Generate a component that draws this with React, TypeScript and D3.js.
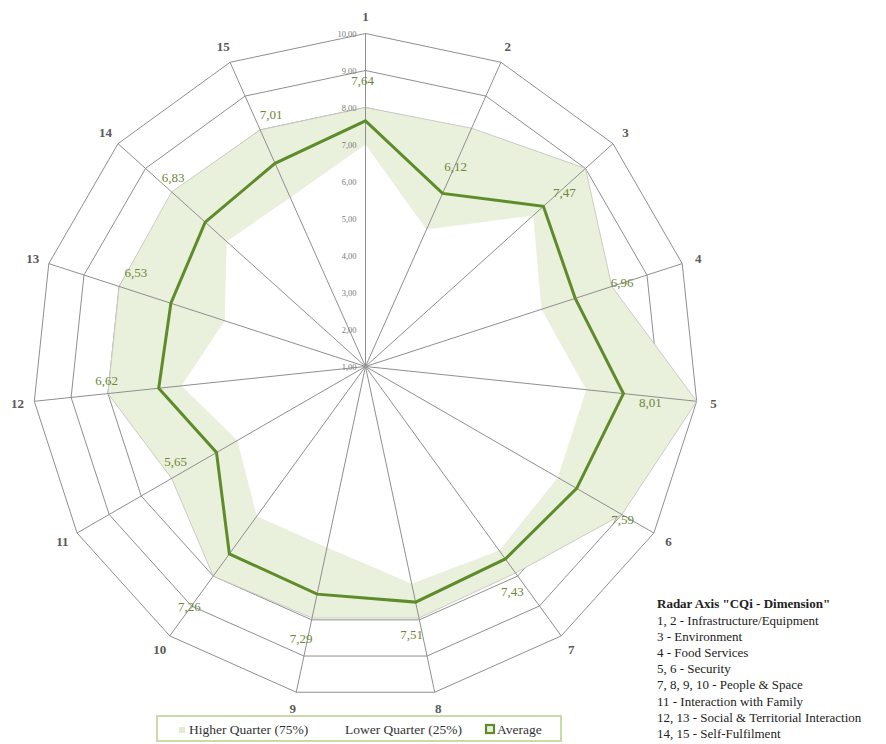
import React from 'react';
import * as d3 from 'd3';

// Radar axes (CQi dimensions) and the three series shown on them
const axisNames = ['1', '2', '3', '4', '5', '6', '7', '8', '9', '10', '11', '12', '13', '14', '15'];
const averageValues = [7.64, 6.12, 7.47, 6.96, 8.01, 7.59, 7.43, 7.51, 7.29, 7.26, 5.65, 6.62, 6.53, 6.83, 7.01];
const higherQuarter = [8.0, 8.05, 9.0, 8.0, 10.0, 9.0, 7.9, 7.95, 7.95, 8.0, 7.05, 8.0, 8.0, 8.05, 8.0];
const lowerQuarter = [7.0, 5.05, 7.1, 6.0, 7.0, 7.0, 7.15, 7.0, 6.0, 6.0, 5.0, 6.0, 5.0, 6.05, 6.0];
const tickValues = [1, 2, 3, 4, 5, 6, 7, 8, 9, 10];

const legendItems = ['Higher Quarter (75%)', 'Lower Quarter (25%)', 'Average'];
const dimensionTitle = 'Radar Axis "CQi - Dimension"';
const dimensionNotes = [
  '1, 2 - Infrastructure/Equipment',
  '3 - Environment',
  '4 - Food Services',
  '5, 6 - Security',
  '7, 8, 9, 10 - People & Space',
  '11 - Interaction with Family',
  '12, 13 - Social & Territorial Interaction',
  '14, 15 - Self-Fulfilment',
];

// layout
const W = 886;
const H = 744;
const cx = 365.5;
const cy = 366.5;
const R = 333;
// per-axis nudges of the value labels relative to the average vertex (px)
const labelNudge: [number, number][] = [
  [-3, -40], [13, -27], [21, -14], [47, -16], [27, 9], [46, 31], [7, 33], [-4, 32],
  [-16, 44], [-40, 53], [-41, 9], [-52, -8], [-35, -31], [-32, -45], [-4, -49],
];

const SERIF = "'Liberation Serif', 'Times New Roman', 'DejaVu Serif', serif";
const GRID = '#8f8f8f';
const FILL_HIGH = '#e9f0dc';
const AVG = '#5e8c2b';
const LABEL_GREEN = '#6e8736';

export default function App() {
  const n = axisNames.length;
  const r = d3.scaleLinear().domain([1, 10]).range([0, R]);
  const angle = d3
    .scaleLinear()
    .domain([0, n])
    .range([0, 2 * Math.PI]);

  const radial = d3
    .lineRadial<number>()
    .angle((_, i) => angle(i))
    .radius((v) => r(v))
    .curve(d3.curveLinearClosed);

  const pt = (i: number, v: number): [number, number] => {
    const a = angle(i);
    const d = r(v);
    return [cx + d * Math.sin(a), cy - d * Math.cos(a)];
  };

  const fmt = (v: number) => d3.format('.2f')(v).replace('.', ',');

  return (
    <svg
      width={W}
      height={H}
      viewBox={`0 0 ${W} ${H}`}
      style={{ position: 'absolute', left: 0, top: 0, background: '#fff', fontFamily: SERIF }}
    >
      <rect x={0} y={0} width={W} height={H} fill="#fff" />
      <g transform={`translate(${cx},${cy})`}>
        {/* grid rings */}
        {tickValues.slice(1).map((t) => (
          <path
            key={`ring-${t}`}
            d={radial(axisNames.map(() => t)) || ''}
            fill="none"
            stroke={GRID}
            strokeWidth={1}
          />
        ))}
        {/* quartile band: higher quarter filled, lower quarter blanked out */}
        <path d={radial(higherQuarter) || ''} fill={FILL_HIGH} stroke="#c9cdc2" strokeWidth={1} />
        <path d={radial(lowerQuarter) || ''} fill="#fff" stroke="none" />
      </g>

      {/* spokes */}
      {axisNames.map((name, i) => {
        const [x, y] = pt(i, 10);
        return <line key={`spoke-${name}`} x1={cx} y1={cy} x2={x} y2={y} stroke={GRID} strokeWidth={1} />;
      })}
      <circle cx={cx} cy={cy} r={2} fill="#999" />

      {/* average series */}
      <g transform={`translate(${cx},${cy})`}>
        <path
          d={radial(averageValues) || ''}
          fill="none"
          stroke={AVG}
          strokeWidth={3}
          strokeLinejoin="miter"
        />
      </g>

      {/* tick labels along axis 1 */}
      {tickValues.map((t) => (
        <text
          key={`tick-${t}`}
          x={cx - 9}
          y={cy - r(t)}
          textAnchor="end"
          dominantBaseline="central"
          fontSize={8.5}
          fill="#7a7a7a"
        >
          {fmt(t)}
        </text>
      ))}

      {/* value labels */}
      {averageValues.map((v, i) => {
        const [x, y] = pt(i, v);
        return (
          <text
            key={`val-${i}`}
            x={x + labelNudge[i][0]}
            y={y + labelNudge[i][1]}
            textAnchor="middle"
            dominantBaseline="central"
            fontSize={13}
            fill={LABEL_GREEN}
          >
            {fmt(v)}
          </text>
        );
      })}

      {/* axis names */}
      {axisNames.map((name, i) => {
        const a = angle(i);
        const d = R + 17;
        return (
          <text
            key={`axis-${name}`}
            x={cx + d * Math.sin(a)}
            y={cy - d * Math.cos(a)}
            textAnchor="middle"
            dominantBaseline="central"
            fontSize={13}
            fontWeight="bold"
            fill="#5a5a5a"
          >
            {name}
          </text>
        );
      })}

      {/* legend */}
      <rect x={157} y={716} width={404} height={25} fill="none" stroke="#cadba9" strokeWidth={2} />
      <rect x={179} y={727} width={6} height={6} fill="#e3ecd3" />
      <text x={189} y={734} fontSize={13.5} fill="#333">
        {legendItems[0]}
      </text>
      <text x={345} y={734} fontSize={13.5} fill="#333">
        {legendItems[1]}
      </text>
      <rect x={486} y={725} width={8} height={8} fill={FILL_HIGH} stroke={AVG} strokeWidth={2.2} />
      <text x={497} y={734} fontSize={13.5} fill="#333">
        {legendItems[2]}
      </text>

      {/* dimension key */}
      <text x={657} y={608} fontSize={13} fontWeight="bold" fill="#222">
        {dimensionTitle}
      </text>
      {dimensionNotes.map((line, i) => (
        <text key={`note-${i}`} x={657} y={625 + i * 16.1} fontSize={13} fill="#222">
          {line}
        </text>
      ))}
    </svg>
  );
}
